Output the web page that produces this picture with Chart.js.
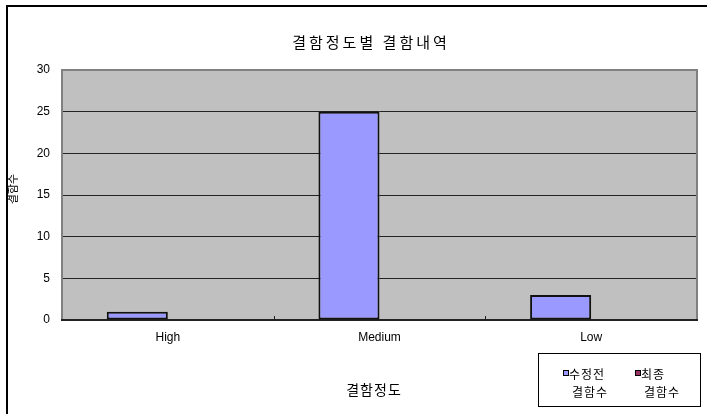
<!DOCTYPE html>
<html>
<head>
<meta charset="utf-8">
<script src="https://cdn.jsdelivr.net/npm/chart.js@4.4.0/dist/chart.umd.min.js"></script>
<style>
  html, body { margin: 0; padding: 0; background: #fff; }
</style>
</head>
<body>
<canvas id="myChart" width="707" height="414"></canvas>
<script>
// chart data
var categories = ['High', 'Medium', 'Low'];
var beforeFix = [1, 25, 3];      // 수정전 결함수
var finalCount = [0, 0, 0];      // 최종 결함수
var seriesNames = [['수정전', '결함수'], ['최종', '결함수']];
var yMax = 30;
var yStep = 5;

var chartTitle = '결함정도별 결함내역';
var xTitle = '결함정도';
var yTitle = '결함수';

var FONT = "'Liberation Sans', 'Noto Sans CJK KR', sans-serif";
var KFONT = "'Noto Sans CJK KR', 'Liberation Sans', sans-serif";
var colors = ['#9999FF', '#993366'];

// frame, plot background, titles and legend
var decor = {
  id: 'decor',
  beforeDraw: function (chart) {
    var ctx = chart.ctx, a = chart.chartArea;
    ctx.save();
    ctx.fillStyle = '#fff';
    ctx.fillRect(0, 0, chart.width, chart.height);
    // outer frame (cut off at right / bottom)
    ctx.strokeStyle = '#000';
    ctx.lineWidth = 2;
    ctx.beginPath();
    ctx.moveTo(7, chart.height + 5);
    ctx.lineTo(7, 6);
    ctx.lineTo(chart.width + 5, 6);
    ctx.stroke();
    // plot background
    ctx.fillStyle = '#C0C0C0';
    ctx.fillRect(a.left, a.top, a.right - a.left, a.bottom - a.top);
    ctx.restore();
  },
  beforeDatasetsDraw: function (chart) {
    var ctx = chart.ctx, a = chart.chartArea;
    ctx.save();
    ctx.strokeStyle = '#808080';
    ctx.lineWidth = 2;
    ctx.strokeRect(a.left, a.top, a.right - a.left, a.bottom - a.top);
    ctx.strokeStyle = '#222';
    ctx.beginPath();
    ctx.moveTo(a.left - 1, a.bottom);
    ctx.lineTo(a.right + 1, a.bottom);
    ctx.stroke();
    // small category separators
    ctx.lineWidth = 1;
    var xs = chart.scales.x;
    for (var i = 1; i < categories.length; i++) {
      var px = Math.round((xs.getPixelForValue(i - 1) + xs.getPixelForValue(i)) / 2) + 0.5;
      ctx.beginPath();
      ctx.moveTo(px, a.bottom);
      ctx.lineTo(px, a.bottom - 4);
      ctx.stroke();
    }
    ctx.restore();
  },
  afterDraw: function (chart) {
    var ctx = chart.ctx;
    ctx.save();
    ctx.fillStyle = '#000';
    ctx.textBaseline = 'middle';
    ctx.textAlign = 'center';

    // chart title
    ctx.font = '15px ' + KFONT;
    ctx.letterSpacing = '3px';
    ctx.fillText(chartTitle, 371, 42);

    // x axis title
    ctx.font = '14px ' + KFONT;
    ctx.letterSpacing = '1px';
    ctx.fillText(xTitle, 374, 390);

    // y axis title
    ctx.font = '11px ' + KFONT;
    ctx.letterSpacing = '0px';
    ctx.save();
    ctx.translate(13, 189);
    ctx.rotate(-Math.PI / 2);
    ctx.fillText(yTitle, 0, 0);
    ctx.restore();

    // legend
    ctx.strokeStyle = '#000';
    ctx.lineWidth = 1;
    ctx.strokeRect(538.5, 353.5, 162, 53);
    ctx.font = '12px ' + KFONT;
    ctx.letterSpacing = '1px';
    for (var i = 0; i < seriesNames.length; i++) {
      var sx = 563 + i * 72;
      ctx.fillStyle = colors[i];
      ctx.fillRect(sx, 370, 6, 6);
      ctx.strokeStyle = '#000';
      ctx.strokeRect(sx + 0.5, 370.5, 5, 5);
      ctx.fillStyle = '#000';
      ctx.textAlign = 'left';
      ctx.fillText(seriesNames[i][0], sx + 6, 374);
      ctx.textAlign = 'center';
      ctx.fillText(seriesNames[i][1], sx + 27, 392);
    }
    ctx.restore();
  }
};

var config = {
  type: 'bar',
  data: {
    labels: categories,
    datasets: [{
      label: seriesNames[0].join(' '),
      data: beforeFix,
      backgroundColor: colors[0],
      borderColor: '#111',
      borderWidth: 2,
      borderSkipped: false
    }, {
      label: seriesNames[1].join(' '),
      data: finalCount,
      backgroundColor: colors[1],
      borderColor: '#111',
      borderWidth: 0,
      borderSkipped: false
    }]
  },
  options: {
    responsive: false,
    animation: false,
    devicePixelRatio: 1,
    categoryPercentage: 0.577,
    barPercentage: 1.0,
    layout: { padding: { left: 0, top: 70, right: 10, bottom: 0 } },
    plugins: {
      legend: { display: false },
      title: { display: false },
      tooltip: { enabled: false }
    },
    scales: {
      x: {
        grid: { display: false },
        border: { display: false },
        ticks: { color: '#000', padding: 2, font: { family: FONT, size: 12 } },
        afterFit: function (axis) { axis.height = 94; }
      },
      y: {
        min: 0,
        max: yMax,
        ticks: { stepSize: yStep, color: '#000', padding: 12, font: { family: FONT, size: 12 } },
        grid: {
          drawTicks: false,
          color: function (c) {
            return (c.tick.value === 0 || c.tick.value === yMax) ? 'rgba(0,0,0,0)' : '#222';
          },
          lineWidth: 1
        },
        border: { display: false },
        afterFit: function (axis) { axis.width = 62; }
      }
    }
  },
  plugins: [decor]
};

var myChart = new Chart(document.getElementById('myChart'), config);
</script>
</body>
</html>
